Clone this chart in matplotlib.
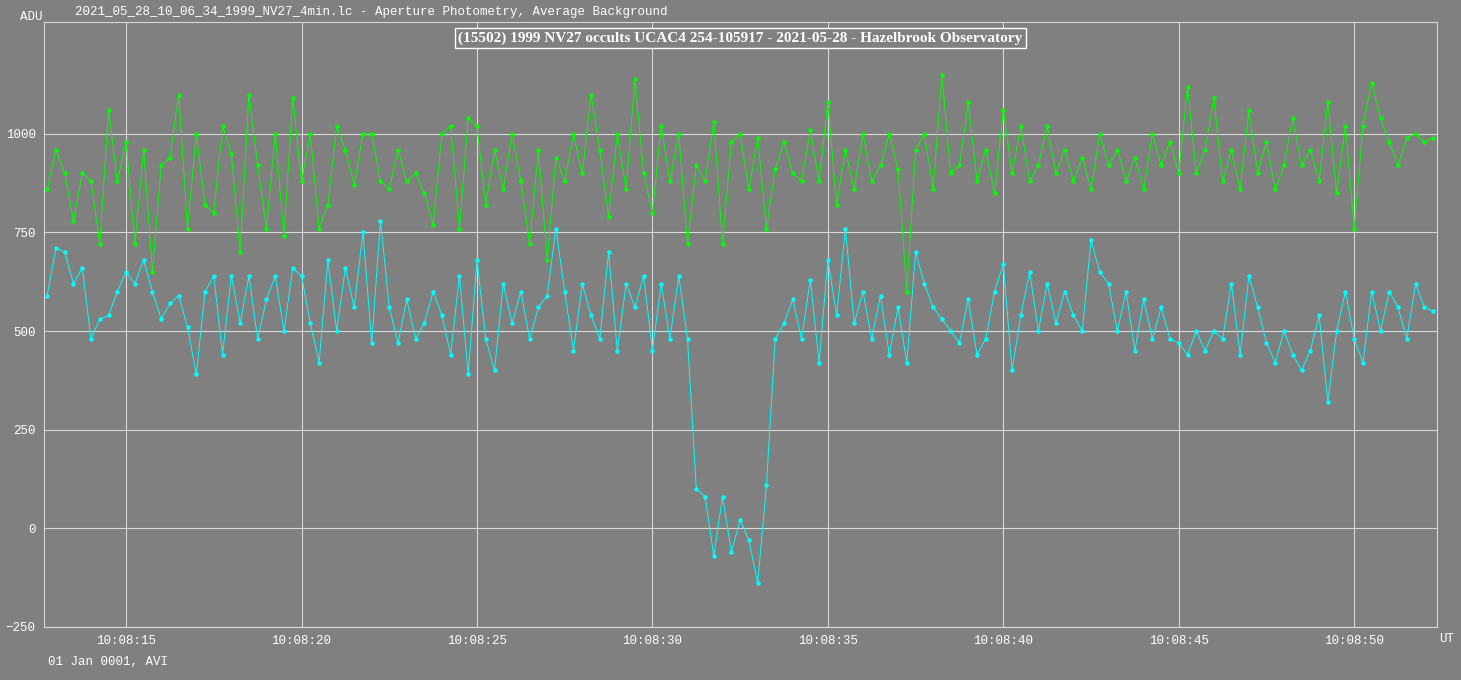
import matplotlib
matplotlib.use('Agg')
import matplotlib.pyplot as plt
import numpy as np

# seconds after 10:08:00, one sample every 0.25 s starting at 12.75
t_start = 12.75
t_step = 0.25

target_adu = [
    590,
    710, 700, 620, 660,  480, 530, 540, 600,  650, 620, 680, 600,  530, 570, 590, 510,
    390, 600, 640, 440,  640, 520, 640, 480,  580, 640, 500, 660,  640, 520, 420, 680,
    500, 660, 560, 750,  470, 780, 560, 470,  580, 480, 520, 600,  540, 440, 640, 390,
    680, 480, 400, 620,  520, 600, 480, 560,  590, 760, 600, 450,  620, 540, 480, 700,
    450, 620, 560, 640,  450, 620, 480, 640,  480, 100, 80, -70,   80, -60, 20, -30,
    -140, 110, 480, 520, 580, 480, 630, 420,  680, 540, 760, 520,  600, 480, 590, 440,
    560, 420, 700, 620,  560, 530, 500, 470,  580, 440, 480, 600,  670, 400, 540, 650,
    500, 620, 520, 600,  540, 500, 730, 650,  620, 500, 600, 450,  580, 480, 560, 480,
    470, 440, 500, 450,  500, 480, 620, 440,  640, 560, 470, 420,  500, 440, 400, 450,
    540, 320, 500, 600,  480, 420, 600, 500,  600, 560, 480, 620,  560, 550,
]

comparison_adu = [
    860,
    960, 900, 780, 900,  880, 720, 1060, 880,  980, 720, 960, 650,  920, 940, 1100, 760,
    1000, 820, 800, 1020,  950, 700, 1100, 920,  760, 1000, 740, 1090,  880, 1000, 760, 820,
    1020, 960, 870, 1000,  1000, 880, 860, 960,  880, 900, 850, 770,  1000, 1020, 760, 1040,
    1020, 820, 960, 860,  1000, 880, 720, 960,  680, 940, 880, 1000,  900, 1100, 960, 790,
    1000, 860, 1140, 900,  800, 1020, 880, 1000,  720, 920, 880, 1030,  720, 980, 1000, 860,
    990, 760, 910, 980,  900, 880, 1010, 880,  1080, 820, 960, 860,  1000, 880, 920, 1000,
    910, 600, 960, 1000,  860, 1150, 900, 920,  1080, 880, 960, 850,  1060, 900, 1020, 880,
    920, 1020, 900, 960,  880, 940, 860, 1000,  920, 960, 880, 940,  860, 1000, 920, 980,
    900, 1120, 900, 960,  1090, 880, 960, 860,  1060, 900, 980, 860,  920, 1040, 920, 960,
    880, 1080, 850, 1020,  760, 1020, 1130, 1040,  980, 920, 990, 1000,  980, 990,
]

t_target = t_start + t_step * np.arange(len(target_adu))
t_comp = t_start + t_step * np.arange(len(comparison_adu))

tick_secs = [15, 20, 25, 30, 35, 40, 45, 50]
tick_labels = ['10:08:%02d' % s for s in tick_secs]
y_ticks = [-250, 0, 250, 500, 750, 1000]

BG = '#808080'
MONO = 'Liberation Mono'

fig = plt.figure(figsize=(14.61, 6.80), dpi=100, facecolor=BG)
ax = fig.add_axes([44 / 1461, 1 - 627 / 680, (1437 - 44) / 1461, (627 - 22) / 680])
ax.set_facecolor(BG)

ax.plot(t_comp, comparison_adu, color='#00ff00', lw=0.7, marker='o', ms=2.2)
ax.plot(t_target, target_adu, color='#00ffff', lw=0.7, marker='o', ms=2.2)

ax.set_xlim(12.66, 52.36)
ax.set_ylim(-251, 1284)
ax.set_xticks(tick_secs)
ax.set_xticklabels(tick_labels)
ax.set_yticks(y_ticks)
ax.grid(True, color='#d8d8d8', lw=0.8)
ax.set_axisbelow(True)
for sp in ax.spines.values():
    sp.set_color('#d8d8d8')
ax.tick_params(colors='white', length=0, labelsize=9, pad=6)
for lab in ax.get_xticklabels() + ax.get_yticklabels():
    lab.set_fontfamily(MONO)
    lab.set_color('white')

ax.text(0.5, 0.985, '(15502) 1999 NV27 occults UCAC4 254-105917 - 2021-05-28 - Hazelbrook Observatory',
        transform=ax.transAxes, ha='center', va='top', color='white', fontsize=11,
        fontweight='bold', family='Liberation Serif',
        bbox=dict(facecolor=BG, edgecolor='white', pad=2.5))

fig.text(20 / 1461, 1 - 17 / 680, 'ADU', color='white', fontsize=9, family=MONO, va='center')
fig.text(75 / 1461, 1 - 12 / 680,
         '2021_05_28_10_06_34_1999_NV27_4min.lc - Aperture Photometry, Average Background',
         color='white', fontsize=9, family=MONO, va='center')
fig.text(1439 / 1461, 1 - 639 / 680, 'UT', color='white', fontsize=9, family=MONO, va='center')
fig.text(48 / 1461, 1 - 662 / 680, '01 Jan 0001, AVI', color='white', fontsize=9,
         family=MONO, va='center')

fig.savefig('out.png', dpi=100, facecolor=BG)
